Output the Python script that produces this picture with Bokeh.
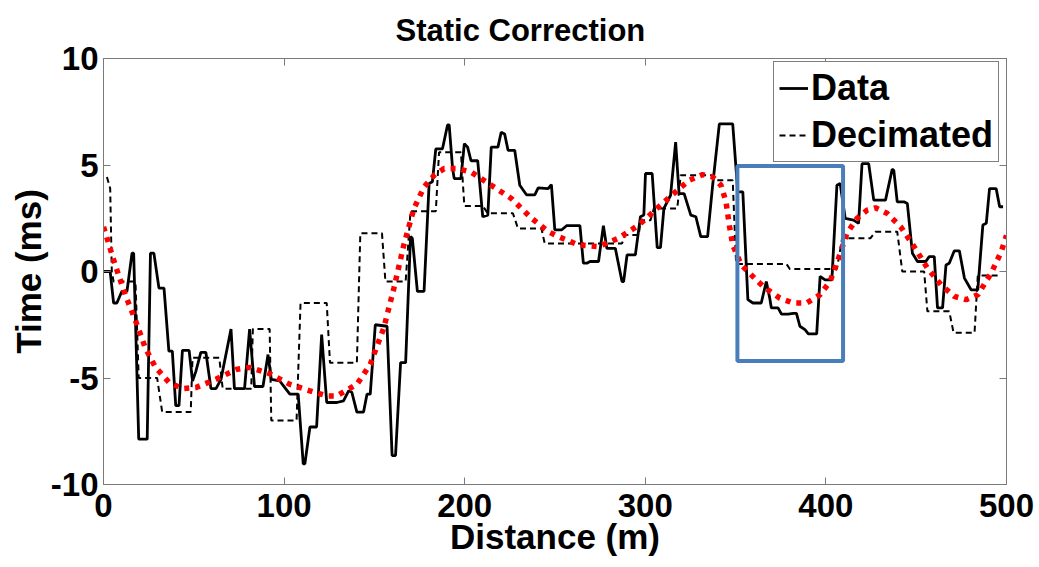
from bokeh.plotting import figure
from bokeh.models import Range1d, LinearAxis, Legend, LegendItem, FixedTicker
from bokeh.embed import file_html
from bokeh.resources import INLINE

# ---- data ----
x_data = [0, 3.7, 5.6, 7.4, 10.2, 13.0, 15.8, 16.7, 19.5, 24.2, 26.0, 27.9, 30.7, 33.5, 36.2, 38.1,
          40.0, 41.8, 43.7, 47.4, 49.3, 51.1, 53.9, 56.7, 59.5, 62.3, 65.1, 70.6, 72.5, 78.1, 80.9,
          83.6, 88.3, 91.1, 92.9, 97.6, 100.4, 103.2, 107.8, 110.6, 111.5, 114.3, 118.0, 120.8,
          123.6, 129.2, 132.9, 135.7, 137.5, 140.3, 144.0, 145.9, 147.7, 150.5, 157.0, 159.8, 161.7,
          164.5, 167.3, 170.0, 171.0, 173.8, 177.5, 180.3, 182.1, 184.0, 187.7, 190.5, 191.4, 193.3,
          194.2, 197.9, 199.8, 201.6, 203.5, 207.2, 210.0, 212.8, 214.7, 218.4, 220.2, 222.1, 224.0,
          227.7, 230.5, 234.2, 238.8, 240.7, 246.2, 248.0, 249.9, 253.6, 256.4, 263.8, 265.7, 267.6,
          269.4, 274.1, 276.8, 278.7, 283.4, 287.1, 288.0, 289.9, 294.5, 297.3, 299.2, 300.1, 303.8,
          306.6, 308.4, 310.3, 314.0, 316.8, 318.7, 321.5, 325.2, 328.0, 330.7, 334.5, 337.3, 341.0,
          348.4, 351.2, 354.0, 356.8, 359.6, 364.2, 367.0, 368.9, 369.8, 373.5, 375.4, 379.1, 381.9,
          383.7, 385.6, 388.4, 390.3, 394.9, 396.8, 399.5, 403.3, 406.1, 407.9, 410.7, 415.3, 418.1,
          420.0, 423.7, 426.5, 433.0, 436.7, 437.6, 439.5, 443.2, 445.1, 447.9, 450.7, 455.3, 457.2,
          460.0, 461.8, 464.6, 466.5, 468.3, 471.1, 473.9, 476.7, 480.4, 484.1, 486.9, 488.8, 490.6,
          494.3, 496.2, 498.1]
t_data = [0, 0, -1.48, -1.48, -0.93, -0.93, 0.86, 0.86, -7.87, -7.87, 0.86, 0.86, -0.78, -0.78,
          -3.74, -3.74, -6.3, -6.3, -3.7, -3.7, -5.14, -4.7, -3.8, -3.8, -5.5, -5.5, -5.05, -2.7,
          -5.5, -5.5, -2.7, -5.4, -5.4, -3.9, -5.06, -5.14, -5.45, -5.76, -5.76, -9.03, -9.03, -7.3,
          -7.3, -2.96, -6.15, -6.15, -6.07, -5.6, -5.67, -6.6, -6.6, -5.76, -5.76, -2.5, -2.57, -8.64,
          -8.64, -4.28, -4.28, 1.64, 1.56, -0.93, -0.93, 4.13, 4.21, 5.76, 5.76, 6.88, 6.88, 4.83,
          4.36, 4.36, 6.0, 5.84, 5.2, 5.2, 2.57, 2.65, 5.84, 5.84, 6.54, 6.46, 5.69, 5.69, 4.05, 3.6,
          3.6, 3.93, 3.89, 4.08, 1.95, 1.95, 2.15, 2.15, 0.39, 0.39, 0.47, 0.47, 2.15, 1.09, 1.09,
          -0.47, -0.47, 0.78, 0.78, 2.57, 2.65, 4.6, 4.6, 1.12, 1.12, 2.96, 3.58, 6.07, 3.66, 3.66,
          2.65, 2.57, 1.64, 1.64, 4.05, 6.93, 6.93, 3.74, 3.74, -1.32, -1.48, -1.48, -0.47, -1.25,
          -1.71, -1.71, -2.0, -2.0, -1.97, -1.97, -2.57, -2.73, -2.93, -2.93, -0.23, -0.39, -0.39,
          4.05, 4.13, 2.49, 2.41, 2.26, 5.06, 5.06, 3.35, 3.35, 4.8, 4.75, 3.27, 3.27, 3.19, 0.86,
          0.47, 0.47, 0.7, 0.7, -1.71, -1.71, 0.31, 0.39, 0.97, 0.97, -0.31, -0.86, -0.86, 2.18,
          2.26, 3.89, 3.89, 3.04, 3.04]

x_dec = [1.9, 3.7, 4.6, 5.6, 17.7, 19.5, 29.7, 32.5, 48.3, 49.3, 64.1, 66.0, 81.8, 82.7, 92.0, 92.9,
         106.9, 109.1, 123.6, 125.4, 140.3, 142.2, 154.2, 156.1, 167.3, 170.0, 184.0, 185.8, 197.9,
         199.8, 210.0, 212.8, 226.7, 229.5, 242.5, 244.3, 287.1, 288.9, 296.4, 297.3, 302.9, 304.7,
         317.7, 319.6, 337.3, 339.1, 348.4, 350.3, 378.2, 380.0, 406.1, 409.0, 424.6, 427.4, 439.5,
         442.3, 454.4, 456.2, 468.3, 470.7, 482.3, 484.1, 497.1]
t_dec = [4.44, 3.9, 0.0, -0.47, -0.47, -5.0, -5.0, -6.6, -6.6, -4.05, -4.05, -5.5, -5.5, -2.7, -2.7,
         -7.0, -7.0, -1.48, -1.48, -4.28, -4.28, 1.79, 1.79, -0.47, -0.47, 2.83, 2.83, 5.6, 5.6,
         3.08, 3.08, 2.73, 2.73, 2.02, 2.02, 1.32, 1.32, 1.71, 1.71, 2.41, 2.41, 2.96, 2.96, 4.52,
         4.52, 4.28, 4.28, 0.35, 0.35, 0.12, 0.12, 1.56, 1.56, 1.87, 1.87, 0.0, 0.0, -1.87, -1.87,
         -2.88, -2.88, -0.19, -0.19]

x_fit = [0, 6.5, 12.1, 17.7, 23.2, 28.8, 36.2, 43.7, 51.1, 62.3, 73.4, 80.9, 92.0, 103.2, 114.3,
         123.6, 129.2, 140.3, 147.7, 155.2, 160.8, 166.3, 171.9, 177.5, 183.1, 188.6, 196.1, 203.5,
         214.7, 225.8, 237.0, 246.3, 251.8, 262.9, 274.1, 285.2, 296.4, 307.5, 316.8, 324.2, 331.7,
         337.3, 341.9, 344.7, 346.5, 348.4, 353.1, 357.7, 365.2, 374.5, 381.9, 389.3, 396.8, 402.3,
         407.0, 411.6, 417.2, 422.8, 427.4, 433.9, 441.4, 448.8, 456.2, 463.7, 471.1, 477.6, 484.1,
         491.5, 497.1, 500.0]
t_fit = [2.1, 0.3, -1.1, -2.3, -3.6, -4.5, -5.2, -5.5, -5.45, -5.06, -4.6, -4.5, -4.8, -5.3, -5.6,
         -5.84, -5.84, -5.3, -4.36, -2.65, -0.78, 1.25, 2.96, 3.97, 4.52, 4.83, 4.83, 4.67, 4.05,
         3.43, 2.5, 1.87, 1.64, 1.25, 1.17, 1.56, 2.18, 3.04, 3.74, 4.28, 4.55, 4.44, 4.05, 3.27,
         2.18, 1.25, 0.31, -0.08, -0.7, -1.25, -1.48, -1.48, -1.09, -0.47, 0.62, 1.79, 2.49, 2.88,
         2.99, 2.73, 2.1, 1.17, 0.16, -0.62, -1.17, -1.32, -1.09, -0.08, 0.93, 1.7]

box_x = [351.0, 409.5]
box_t = [-4.2, 4.95]

x_ticks = [0, 100, 200, 300, 400, 500]
x_tick_labels = ["0", "100", "200", "300", "400", "500"]
y_ticks = [-10, -5, 0, 5, 10]
y_tick_labels = ["-10", "-5", "0", "5", "10"]

series_labels = ["Data", "Decimated"]

FONT = "Liberation Sans"
GRAY = "#7a7a7a"

p = figure(width=1039, height=567, output_backend="svg", toolbar_location=None,
           x_range=Range1d(0, 500), y_range=Range1d(-10, 10),
           min_border_left=103, min_border_right=33, min_border_top=56, min_border_bottom=83,
           title="Static Correction")
p.background_fill_color = "white"
p.border_fill_color = "white"
p.outline_line_color = GRAY
p.grid.visible = False

p.title.text_font = FONT
p.title.text_font_style = "bold"
p.title.text_font_size = "31px"
p.title.align = "left"
p.title.offset = 292
p.title.standoff = 21
p.title.text_color = "black"

for ax, ticks, labels in ((p.xaxis[0], x_ticks, x_tick_labels), (p.yaxis[0], y_ticks, y_tick_labels)):
    ax.ticker = FixedTicker(ticks=ticks)
    ax.major_label_overrides = {t: l for t, l in zip(ticks, labels)}
    ax.major_label_text_font = FONT
    ax.major_label_text_font_style = "bold"
    ax.major_label_text_font_size = "33px"
    ax.major_label_text_color = "black"
    ax.axis_label_text_font = FONT
    ax.axis_label_text_font_style = "bold"
    ax.axis_label_text_font_size = "35px"
    ax.axis_label_text_color = "black"
    ax.major_tick_in = 7
    ax.major_tick_out = 0
    ax.minor_tick_line_color = None
    ax.axis_line_color = GRAY
    ax.major_tick_line_color = GRAY

p.xaxis.axis_label = "Distance (m)"
p.yaxis.axis_label = "Time (ms)"
p.xaxis.major_label_standoff = 9
p.xaxis.axis_label_standoff = -3
p.yaxis.major_label_standoff = 5
p.yaxis.axis_label_standoff = 0

# box ticks on top / right
top = LinearAxis(ticker=FixedTicker(ticks=x_ticks), major_label_overrides={t: "" for t in x_ticks},
                 major_tick_in=7, major_tick_out=0, minor_tick_line_color=None,
                 axis_line_color=GRAY, major_tick_line_color=GRAY, major_label_standoff=0)
right = LinearAxis(ticker=FixedTicker(ticks=y_ticks), major_label_overrides={t: "" for t in y_ticks},
                   major_tick_in=7, major_tick_out=0, minor_tick_line_color=None,
                   axis_line_color=GRAY, major_tick_line_color=GRAY, major_label_standoff=0)
p.add_layout(top, "above")
p.add_layout(right, "right")

r_data = p.line(x_data, t_data, line_color="black", line_width=2.8)
r_dec = p.line(x_dec, t_dec, line_color="black", line_width=2, line_dash="6 4")
p.line(x_fit, t_fit, line_color="#ff0000", line_width=5.5, line_dash="5 6")

p.quad(left=[box_x[0]], right=[box_x[1]], bottom=[box_t[0]], top=[box_t[1]],
       fill_color=None, line_color="#4a7ebb", line_width=4)

legend = Legend(items=[LegendItem(label=series_labels[0], renderers=[r_data]),
                       LegendItem(label=series_labels[1], renderers=[r_dec])],
                location=(670, 322), orientation="vertical",
                label_text_font=FONT, label_text_font_style="bold", label_text_font_size="36px",
                label_text_color="black",
                border_line_color="black", border_line_width=1, background_fill_color="white",
                background_fill_alpha=1.0,
                padding=5, spacing=5, margin=0, glyph_width=29, glyph_height=40,
                label_height=40, label_standoff=3)
p.add_layout(legend)

open("out.html", "w").write(file_html(p, INLINE))
